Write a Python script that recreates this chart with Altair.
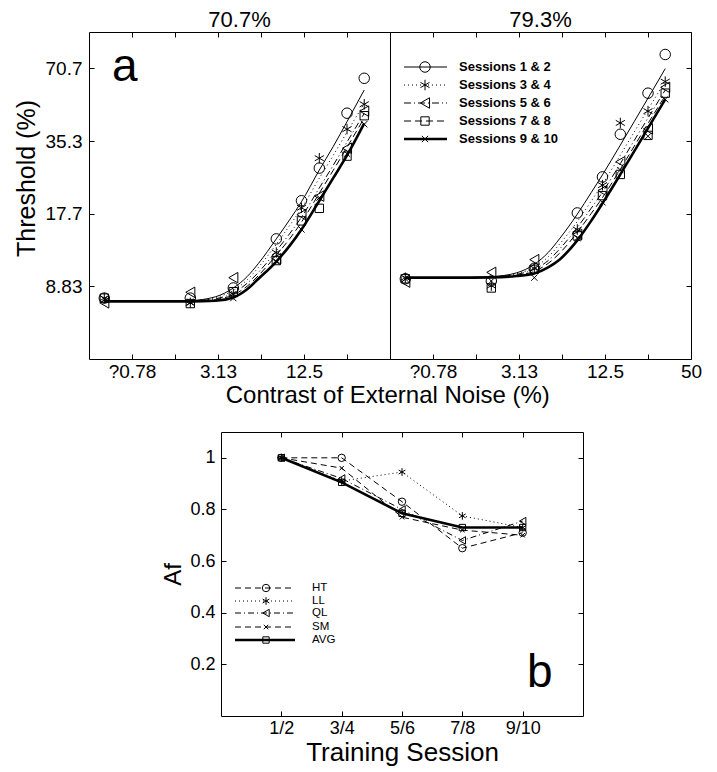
import altair as alt
import pandas as pd

FONT = "Liberation Sans"

# ---------------- data: panel a ----------------
noise_levels = [0.5, 2, 4, 8, 12, 16, 25, 33]
session_names = ["Sessions 1 & 2", "Sessions 3 & 4", "Sessions 5 & 6",
                 "Sessions 7 & 8", "Sessions 9 & 10"]
panel_titles = ["70.7%", "79.3%"]
panel_letters = ["a", "b"]

thr_70 = [
    [7.9, 7.9, 8.7, 13.9, 20.0, 27.3, 46.1, 64.3],
    [7.9, 7.55, 8.2, 12.2, 18.7, 30.0, 39.6, 50.2],
    [7.55, 8.35, 9.6, 11.5, 17.5, 20.9, 33.0, 47.0],
    [7.9, 7.5, 8.4, 11.3, 16.5, 18.6, 30.6, 45.0],
    [7.8, 7.6, 7.9, 11.2, 15.2, 20.6, 31.3, 41.5],
]
thr_79 = [
    [9.5, 9.3, 10.5, 17.8, 25.1, 37.7, 55.8, 80.7],
    [9.6, 8.9, 10.5, 15.2, 23.2, 42.0, 47.0, 62.3],
    [9.2, 10.1, 11.4, 14.5, 22.0, 29.0, 39.7, 59.0],
    [9.5, 8.7, 10.4, 14.3, 21.0, 25.7, 37.3, 55.8],
    [9.5, 9.3, 9.6, 14.0, 19.7, 26.8, 37.0, 52.6],
]

fit_noise = [0.5, 1, 2, 3, 4, 5, 6, 8, 10, 12, 16, 20, 25, 33]
fit_70 = [
    [7.66, 7.66, 7.72, 8.0, 8.7, 9.7, 11.0, 13.9, 16.8, 19.8, 26.8, 33.5, 42.5, 57.5],
    [7.66, 7.66, 7.7, 7.95, 8.5, 9.4, 10.6, 13.2, 15.9, 18.6, 24.8, 30.8, 38.5, 50.5],
    [7.66, 7.66, 7.68, 7.85, 8.3, 9.1, 10.1, 12.4, 14.7, 17.1, 22.6, 28.0, 35.0, 46.0],
    [7.66, 7.66, 7.67, 7.8, 8.15, 8.85, 9.8, 11.9, 14.0, 16.3, 21.5, 26.7, 33.3, 44.0],
    [7.66, 7.66, 7.66, 7.7, 7.95, 8.6, 9.5, 11.2, 13.1, 15.2, 20.0, 24.8, 30.8, 41.8],
]
fit_79 = [
    [9.6, 9.6, 9.7, 10.05, 10.9, 12.2, 13.9, 17.6, 21.6, 25.6, 34.0, 42.5, 53.2, 70.5],
    [9.6, 9.6, 9.68, 9.98, 10.6, 11.7, 13.2, 16.4, 19.9, 23.4, 30.9, 38.5, 47.8, 62.5],
    [9.6, 9.6, 9.65, 9.9, 10.4, 11.3, 12.6, 15.5, 18.6, 21.7, 28.5, 35.5, 44.0, 57.5],
    [9.6, 9.6, 9.63, 9.82, 10.2, 11.0, 12.1, 14.8, 17.7, 20.6, 27.0, 33.6, 41.8, 54.5],
    [9.6, 9.6, 9.62, 9.75, 10.0, 10.6, 11.4, 13.7, 16.5, 19.5, 25.7, 32.0, 40.0, 52.6],
]

x_tick_values = [0.78125, 1.5625, 3.125, 6.25, 12.5, 25, 50]
x_tick_labels = ["?0.78", "", "3.13", "", "12.5", "", "50"]
y_tick_values = [8.8388, 17.6777, 35.3553, 70.7107]
y_tick_labels = ["8.83", "17.7", "35.3", "70.7"]

# ---------------- data: panel b ----------------
training_sessions = ["1/2", "3/4", "5/6", "7/8", "9/10"]
observers = ["HT", "LL", "QL", "SM", "AVG"]
af_values = [
    [1.0, 1.0, 0.83, 0.65, 0.71],
    [1.0, 0.91, 0.945, 0.775, 0.73],
    [1.0, 0.92, 0.80, 0.68, 0.755],
    [1.0, 0.96, 0.77, 0.72, 0.70],
    [1.0, 0.905, 0.785, 0.73, 0.73],
]
af_tick_values = [0.2, 0.4, 0.6, 0.8, 1.0]
af_tick_labels = ["0.2", "0.4", "0.6", "0.8", "1"]

# ---------------- styles ----------------
TICK = 5
ASTERISK = "M0,-1L0,1M-0.866,-0.5L0.866,0.5M-0.866,0.5L0.866,-0.5"
XMARK = "M-0.7,-0.7L0.7,0.7M-0.7,0.7L0.7,-0.7"

top_styles = [
    dict(dash=None, width=1.0, shape="circle", size=110),
    dict(dash=[1, 3], width=1.0, shape=ASTERISK, size=110),
    dict(dash=[7, 3, 1, 3], width=1.0, shape="triangle-left", size=110),
    dict(dash=[7, 4], width=1.0, shape="square", size=70),
    dict(dash=None, width=2.6, shape=XMARK, size=80),
]
bot_styles = [
    dict(dash=[6, 4], width=1.0, shape="circle", size=55),
    dict(dash=[1, 3], width=1.0, shape=ASTERISK, size=60),
    dict(dash=[6, 3, 1, 3], width=1.0, shape="triangle-left", size=55),
    dict(dash=[6, 4], width=1.0, shape=XMARK, size=40),
    dict(dash=None, width=2.6, shape="square", size=40),
]


def lookup_expr(values, labels):
    expr = "''"
    for v, lab in reversed(list(zip(values, labels))):
        expr = f"abs(datum.value - {v}) < {abs(v) * 1e-4} ? '{lab}' : {expr}"
    return expr


def line_kw(st):
    kw = dict(color="black", strokeWidth=st["width"])
    if st["dash"]:
        kw["strokeDash"] = st["dash"]
    return kw


def point_mark(st):
    return dict(shape=st["shape"], filled=False, color="black",
                size=st["size"], strokeWidth=1, opacity=1)


def top_panel(idx):
    thr = [thr_70, thr_79][idx]
    fit = [fit_70, fit_79][idx]
    xs = alt.Scale(type="log", base=2, nice=False,
                   domain=[x_tick_values[0] / 2, x_tick_values[-1]])
    ys = alt.Scale(type="log", base=2, nice=False,
                   domain=[y_tick_values[0] / 2, y_tick_values[-1] * 2 ** 0.5])
    # the left panel's last tick coincides with the shared border
    tv = x_tick_values if idx == 1 else x_tick_values[:-1]
    labs = x_tick_labels if idx == 1 else x_tick_labels[:-1]
    ax_bottom = alt.Axis(orient="bottom", values=tv,
                         labelExpr=lookup_expr(tv, labs),
                         offset=-TICK, tickSize=TICK, domain=False, grid=False,
                         title=None, labelPadding=3, labelFontSize=19,
                         labelFlush=False, labelOverlap=False)
    ax_top = alt.Axis(orient="top", values=tv, labels=False,
                      offset=-TICK, tickSize=TICK, domain=False, grid=False,
                      title=None)
    if idx == 0:
        ax_y = alt.Axis(orient="left", values=y_tick_values,
                        labelExpr=lookup_expr(y_tick_values, y_tick_labels),
                        offset=-TICK, tickSize=TICK, domain=False, grid=False,
                        title="Threshold (%)", titleFontSize=25, titlePadding=6,
                        titleY=146, labelPadding=7, labelFontSize=19,
                        labelOverlap=False)
    else:
        ax_y = alt.Axis(orient="right", values=y_tick_values, labels=False,
                        offset=-TICK, tickSize=TICK, domain=False, grid=False,
                        title=None)

    layers = []
    for i, st in enumerate(top_styles):
        df = pd.DataFrame({"x": fit_noise, "y": fit[i]})
        xa = ax_bottom if i == 0 else (ax_top if i == 1 else None)
        ya = ax_y if i == 0 else None
        layers.append(
            alt.Chart(df).mark_line(interpolate="monotone", **line_kw(st)).encode(
                x=alt.X("x:Q", scale=xs, axis=xa),
                y=alt.Y("y:Q", scale=ys, axis=ya),
            )
        )
    for i, st in enumerate(top_styles):
        df = pd.DataFrame({"x": noise_levels, "y": thr[i]})
        layers.append(
            alt.Chart(df).mark_point(**point_mark(st)).encode(
                x=alt.X("x:Q", scale=xs, axis=None),
                y=alt.Y("y:Q", scale=ys, axis=None),
            )
        )
    if idx == 0:
        layers.append(
            alt.Chart(pd.DataFrame({"t": [panel_letters[0]]})).mark_text(
                fontSize=46, align="left", baseline="alphabetic", color="black"
            ).encode(x=alt.value(23), y=alt.value(49), text="t:N")
        )
    else:
        for i, st in enumerate(top_styles):
            yy = 35 + 18 * i
            d = pd.DataFrame({"t": [session_names[i]]})
            layers.append(alt.Chart(d).mark_rule(**line_kw(st)).encode(
                x=alt.value(14), x2=alt.value(57), y=alt.value(yy)))
            layers.append(alt.Chart(d).mark_point(**point_mark(st)).encode(
                x=alt.value(35), y=alt.value(yy)))
            layers.append(alt.Chart(d).mark_text(
                fontSize=13, fontWeight="bold", align="left", baseline="middle",
                color="black").encode(x=alt.value(69), y=alt.value(yy), text="t:N"))

    return alt.layer(*layers).resolve_axis(x="independent", y="independent").properties(
        width=301, height=327,
        title=alt.TitleParams(panel_titles[idx], fontSize=22, fontWeight="normal",
                              offset=0),
    )


def bottom_panel():
    xs = alt.Scale(domain=[0, len(training_sessions) + 1], nice=False)
    ys = alt.Scale(domain=[0, 1.1], nice=False)
    pos = list(range(1, len(training_sessions) + 1))
    ax_b = alt.Axis(orient="bottom", values=pos,
                    labelExpr=lookup_expr(pos, training_sessions),
                    offset=-TICK, tickSize=TICK, domain=False, grid=False,
                    title="Training Session", titleFontSize=26, titlePadding=2,
                    labelPadding=3, labelFontSize=18, labelFlush=False,
                    labelOverlap=False)
    ax_t = alt.Axis(orient="top", values=pos, labels=False, offset=-TICK,
                    tickSize=TICK, domain=False, grid=False, title=None)
    ax_l = alt.Axis(orient="left", values=af_tick_values,
                    labelExpr=lookup_expr(af_tick_values, af_tick_labels),
                    offset=-TICK, tickSize=TICK, domain=False, grid=False,
                    title="Af", titleFontSize=24, titlePadding=4,
                    labelPadding=6, labelFontSize=18, labelOverlap=False)
    ax_r = alt.Axis(orient="right", values=af_tick_values, labels=False,
                    offset=-TICK, tickSize=TICK, domain=False, grid=False,
                    title=None)
    layers = []
    for i, st in enumerate(bot_styles):
        df = pd.DataFrame({"x": pos, "y": af_values[i]})
        xa = ax_b if i == 0 else (ax_t if i == 1 else None)
        ya = ax_l if i == 0 else (ax_r if i == 1 else None)
        layers.append(alt.Chart(df).mark_line(**line_kw(st)).encode(
            x=alt.X("x:Q", scale=xs, axis=xa), y=alt.Y("y:Q", scale=ys, axis=ya)))
    for i, st in enumerate(bot_styles):
        df = pd.DataFrame({"x": pos, "y": af_values[i]})
        layers.append(alt.Chart(df).mark_point(**point_mark(st)).encode(
            x=alt.X("x:Q", scale=xs, axis=None), y=alt.Y("y:Q", scale=ys, axis=None)))
    legend_rows = [156, 169, 181, 195, 208]
    for i, st in enumerate(bot_styles):
        d = pd.DataFrame({"t": [observers[i]]})
        yy = legend_rows[i]
        layers.append(alt.Chart(d).mark_rule(**line_kw(st)).encode(
            x=alt.value(14), x2=alt.value(74), y=alt.value(yy)))
        layers.append(alt.Chart(d).mark_point(**point_mark(st)).encode(
            x=alt.value(45), y=alt.value(yy)))
        layers.append(alt.Chart(d).mark_text(
            fontSize=11.5, align="left", baseline="middle", color="black").encode(
            x=alt.value(91), y=alt.value(yy), text="t:N"))
    layers.append(
        alt.Chart(pd.DataFrame({"t": [panel_letters[1]]})).mark_text(
            fontSize=46, align="left", baseline="alphabetic", color="black"
        ).encode(x=alt.value(306), y=alt.value(255), text="t:N")
    )
    return alt.layer(*layers).resolve_axis(x="independent", y="independent").properties(
        width=362, height=284)


top = alt.hconcat(top_panel(0), top_panel(1), spacing=0, bounds="flush").properties(
    title=alt.TitleParams("Contrast of External Noise (%)", orient="bottom",
                          anchor="middle", fontSize=24, fontWeight="normal",
                          offset=2, dx=30)
)

spacer = alt.Chart(pd.DataFrame({"v": [0]})).mark_point(opacity=0).encode(
    x=alt.value(0), y=alt.value(0)
).properties(width=71, height=10, view=alt.ViewBackground(stroke="transparent"))

bottom = alt.hconcat(spacer, bottom_panel(), spacing=0)

chart = alt.vconcat(top, bottom, spacing=20).properties(
    padding={"left": 5, "top": 0, "right": 5, "bottom": 5}
).configure(font=FONT).configure_view(
    stroke="black", strokeWidth=1
).configure_axis(
    labelFont=FONT, titleFont=FONT, labelColor="black", titleColor="black",
    tickColor="black", titleFontWeight="normal"
).configure_title(font=FONT, color="black", fontWeight="normal")

chart.save("out.html", embed_options={"renderer": "svg", "actions": False})
